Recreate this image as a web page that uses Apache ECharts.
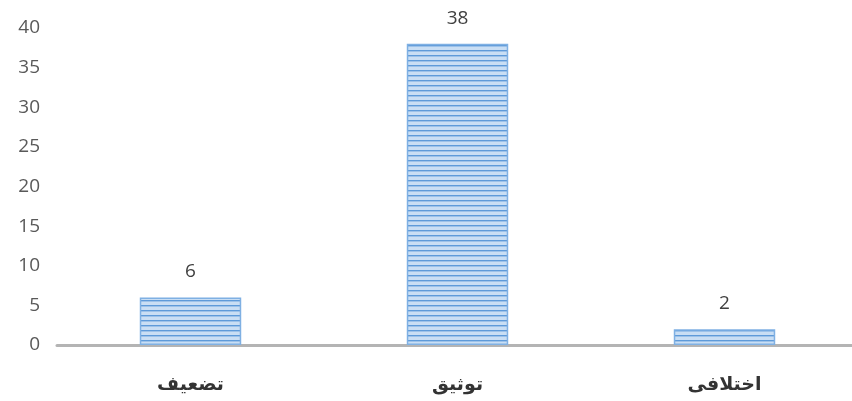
<!DOCTYPE html>
<html><head><meta charset="utf-8">
<script src="https://cdn.jsdelivr.net/npm/echarts@6/dist/echarts.min.js"></script>
<style>html,body{margin:0;padding:0;background:#fff;overflow:hidden}#c{width:858px;height:401px}</style>
</head><body><div id="c"></div>
<script>
const categories = ['تضعیف', 'توثیق', 'اختلافی'];
const values = [6, 38, 2];
const yTicks = [0, 5, 10, 15, 20, 25, 30, 35, 40];

function stripePattern() {
  const cv = document.createElement('canvas');
  cv.width = 8; cv.height = 5;
  const g = cv.getContext('2d');
  g.fillStyle = '#c9def4';
  g.fillRect(0, 0, 8, 5);
  g.fillStyle = '#5e9ad9';
  g.fillRect(0, 0, 8, 1.4);
  return cv;
}

const chart = echarts.init(document.getElementById('c'), null, {renderer: 'canvas'});
chart.setOption({
  animation: false,
  grid: {left: 57, right: 0, top: 28, bottom: 56, containLabel: false},
  xAxis: {
    type: 'category', data: categories,
    axisLine: {lineStyle: {color: '#b4b4b4', width: 3}},
    axisTick: {show: false},
    axisLabel: {color: '#333333', fontSize: 19, fontWeight: 'bold', margin: 30,
      fontFamily: '"Noto Sans", "DejaVu Sans", sans-serif'}
  },
  yAxis: {
    type: 'value', min: yTicks[0], max: yTicks[yTicks.length - 1], interval: 5,
    splitLine: {show: false},
    axisLine: {show: false}, axisTick: {show: false},
    axisLabel: {color: '#595959', fontSize: 19, margin: 17,
      fontFamily: '"Open Sans", "Liberation Sans", sans-serif'}
  },
  series: [{
    type: 'bar', data: values, barWidth: '38%',
    itemStyle: {color: {image: stripePattern(), repeat: 'repeat'}, borderColor: '#7fb0e3', borderWidth: 1.5},
    label: {show: true, position: 'top', distance: 16, color: '#404040', fontSize: 19,
      fontFamily: '"Open Sans", "Liberation Sans", sans-serif'}
  }]
});
</script></body></html>
